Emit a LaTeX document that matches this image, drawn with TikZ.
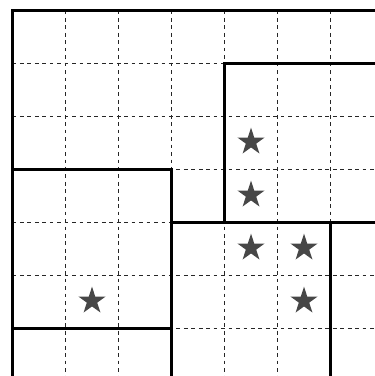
\documentclass[tikz,border=0pt]{standalone}
\usetikzlibrary{shapes.geometric}
\begin{document}
\begin{tikzpicture}[x=1cm,y=-1cm,
  gridline/.style={line width=0.5pt, dash pattern=on 2pt off 2pt, black!85},
  wall/.style={line width=1.9pt, black, line cap=rect},
  starmark/.style={star, star points=5, star point ratio=2.618, fill=black!72, draw=none, minimum size=0.54cm, inner sep=0pt}]
\useasboundingbox (-0.236,-0.198) rectangle (6.821,6.896);
\fill[white] (-0.236,-0.198) rectangle (6.821,6.896);
% dashed grid
\foreach \i in {1,...,6} {
  \draw[gridline] (\i,0) -- (\i,6.95);
  \draw[gridline] (0,\i) -- (6.9,\i);
}
% walls
\draw[wall] (0,6.95) -- (0,0) -- (6.9,0);
\draw[wall] (6.9,1) -- (4,1) -- (4,4);
\draw[wall] (0,3) -- (3,3) -- (3,6.95);
\draw[wall] (0,6) -- (3,6);
\draw[wall] (3,4) -- (6.9,4);
\draw[wall] (6,4) -- (6,6.95);
% stars
\node[starmark] (s1) at (4.5,2.48) {};
\node[starmark] (s2) at (4.5,3.48) {};
\node[starmark] (s3) at (4.5,4.48) {};
\node[starmark] (s4) at (5.5,4.48) {};
\node[starmark] (s5) at (5.5,5.48) {};
\node[starmark] (s6) at (1.5,5.48) {};
\end{tikzpicture}
\end{document}
